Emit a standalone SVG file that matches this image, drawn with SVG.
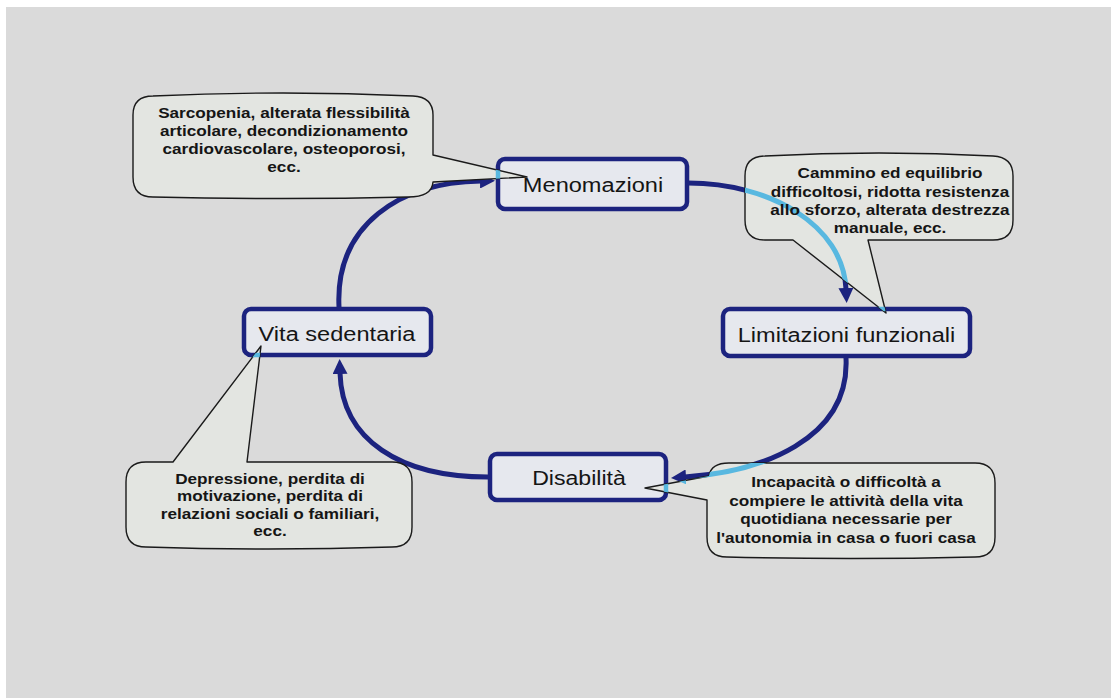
<svg xmlns="http://www.w3.org/2000/svg" xmlns:xlink="http://www.w3.org/1999/xlink" width="1111" height="698" viewBox="0 0 1111 698">
<style>
.bg{fill:#dadada}
.box{fill:#e6e8ee;stroke:#1c237f;stroke-width:4.5}
.boxg{fill:none;stroke:#58b8e0;stroke-width:4.5}
.ntxt{font-family:"Liberation Sans",Arial,sans-serif;font-size:21px;fill:#151515;text-anchor:middle}
.conn{fill:none;stroke:#1c237f;stroke-width:5;marker-end:url(#ah)}
.conng{fill:none;stroke:#58b8e0;stroke-width:5;marker-end:url(#ahg)}
.call{fill:#e3e5e1;stroke:#1a1a1a;stroke-width:1.4;stroke-linejoin:round}
.ctxt{font-family:"Liberation Sans",Arial,sans-serif;font-size:14px;font-weight:bold;fill:#151515;text-anchor:middle}
</style>
<defs>
<marker id="ah" viewBox="0 0 15 15" refX="1" refY="7.5" markerWidth="15" markerHeight="15" markerUnits="userSpaceOnUse" orient="auto"><path d="M0,0 L15,7.5 L0,15 Z" fill="#1c237f"/></marker>
<marker id="ahg" viewBox="0 0 15 15" refX="1" refY="7.5" markerWidth="15" markerHeight="15" markerUnits="userSpaceOnUse" orient="auto"><path d="M0,0 L15,7.5 L0,15 Z" fill="#58b8e0"/></marker>
<clipPath id="clip1"><path d="M153,96 Q283,90 413,96 Q433,97 433,115 L433,155 L527,177 L433,182 Q432,197 408,197 Q283,200 153,197 Q133,197 133,177 L133,115 Q133,96 153,96 Z"/></clipPath>
<clipPath id="clip2"><path d="M765,156 Q879,150 993,156 Q1013,157 1013,176 L1013,220 Q1013,240 993,240 L868,240 L886,313 L793,240 L765,240 Q745,240 745,220 L745,176 Q745,156 765,156 Z"/></clipPath>
<clipPath id="clip3"><path d="M146,462 L173,462 L261,346 L247,462 L392,462 Q412,462 412,482 L412,527 Q412,547 392,547 Q269,551 146,547 Q126,547 126,527 L126,482 Q126,462 146,462 Z"/></clipPath>
<clipPath id="clip4"><path d="M729,463 L975,463 Q995,463 995,483 L995,537 Q995,557 975,557 Q851,560 727,557 Q707,557 707,537 L707,500 L645,488 L709,476 Q711,463 729,463 Z"/></clipPath>
</defs>
<rect x="0" y="0" width="1111" height="698" fill="#ffffff"/>
<rect class="bg" x="6" y="7" width="1105" height="691"/>

<g id="node-menomazioni">
<rect class="box" x="498" y="159" width="189" height="50" rx="7"/>
<text class="ntxt" transform="translate(593,192) scale(1.124,1)">Menomazioni</text>
</g>
<g id="node-limitazioni">
<rect class="box" x="723" y="309" width="247" height="47" rx="7"/>
<text class="ntxt" transform="translate(846.5,342) scale(1.124,1)">Limitazioni funzionali</text>
</g>
<g id="node-vita">
<rect class="box" x="244" y="309" width="187" height="46" rx="7"/>
<text class="ntxt" transform="translate(337,341) scale(1.124,1)">Vita sedentaria</text>
</g>
<g id="node-disabilita">
<rect class="box" x="490" y="454" width="176" height="46" rx="7"/>
<text class="ntxt" transform="translate(579,485) scale(1.1,1)">Disabilità</text>
</g>

<g id="connectors">
<path class="conn" d="M688,183 C770,183 843,225 846,289"/>
<path class="conn" d="M846,358 C850,440 760,472 685,477"/>
<path class="conn" d="M488,477 C400,477 342,440 340,373"/>
<path class="conn" d="M339,307 C335,225 400,182 481,181"/>
</g>

<g id="callout-menomazioni">
<path class="call" d="M153,96 Q283,90 413,96 Q433,97 433,115 L433,155 L527,177 L433,182 Q432,197 408,197 Q283,200 153,197 Q133,197 133,177 L133,115 Q133,96 153,96 Z"/>
<g clip-path="url(#clip1)">
<rect class="boxg" x="498" y="159" width="189" height="50" rx="7"/>
<text class="ntxt" transform="translate(593,192) scale(1.124,1)">Menomazioni</text>
</g>
<g transform="translate(284,0) scale(1.226,1)">
<text class="ctxt" x="0" y="118">Sarcopenia, alterata flessibilità</text>
<text class="ctxt" x="0" y="136">articolare, decondizionamento</text>
<text class="ctxt" x="0" y="154">cardiovascolare, osteoporosi,</text>
<text class="ctxt" x="0" y="172">ecc.</text>
</g>
</g>

<g id="callout-limitazioni">
<path class="call" d="M765,156 Q879,150 993,156 Q1013,157 1013,176 L1013,220 Q1013,240 993,240 L868,240 L886,313 L793,240 L765,240 Q745,240 745,220 L745,176 Q745,156 765,156 Z"/>
<g clip-path="url(#clip2)">
<path class="conng" d="M688,183 C770,183 843,225 846,289"/>
<rect class="boxg" x="723" y="309" width="247" height="47" rx="7"/>
</g>
<g transform="translate(890,0) scale(1.226,1)">
<text class="ctxt" x="0" y="178">Cammino ed equilibrio</text>
<text class="ctxt" x="0" y="197">difficoltosi, ridotta resistenza</text>
<text class="ctxt" x="0" y="215">allo sforzo, alterata destrezza</text>
<text class="ctxt" x="0" y="233">manuale, ecc.</text>
</g>
</g>

<g id="callout-vita">
<path class="call" d="M146,462 L173,462 L261,346 L247,462 L392,462 Q412,462 412,482 L412,527 Q412,547 392,547 Q269,551 146,547 Q126,547 126,527 L126,482 Q126,462 146,462 Z"/>
<g clip-path="url(#clip3)">
<rect class="boxg" x="244" y="309" width="187" height="46" rx="7"/>
<text class="ntxt" transform="translate(337,341) scale(1.124,1)">Vita sedentaria</text>
</g>
<g transform="translate(270,0) scale(1.226,1)">
<text class="ctxt" x="0" y="484">Depressione, perdita di</text>
<text class="ctxt" x="0" y="501.5">motivazione, perdita di</text>
<text class="ctxt" x="0" y="519">relazioni sociali o familiari,</text>
<text class="ctxt" x="0" y="536.5">ecc.</text>
</g>
</g>

<g id="callout-disabilita">
<path class="call" d="M729,463 L975,463 Q995,463 995,483 L995,537 Q995,557 975,557 Q851,560 727,557 Q707,557 707,537 L707,500 L645,488 L709,476 Q711,463 729,463 Z"/>
<g clip-path="url(#clip4)">
<path class="conng" d="M846,358 C850,440 760,472 685,477"/>
<rect class="boxg" x="490" y="454" width="176" height="46" rx="7"/>
</g>
<g transform="translate(846,0) scale(1.226,1)">
<text class="ctxt" x="0" y="487">Incapacità o difficoltà a</text>
<text class="ctxt" x="0" y="506">compiere le attività della vita</text>
<text class="ctxt" x="0" y="524">quotidiana necessarie per</text>
<text class="ctxt" x="0" y="543">l'autonomia in casa o fuori casa</text>
</g>
</g>
</svg>
